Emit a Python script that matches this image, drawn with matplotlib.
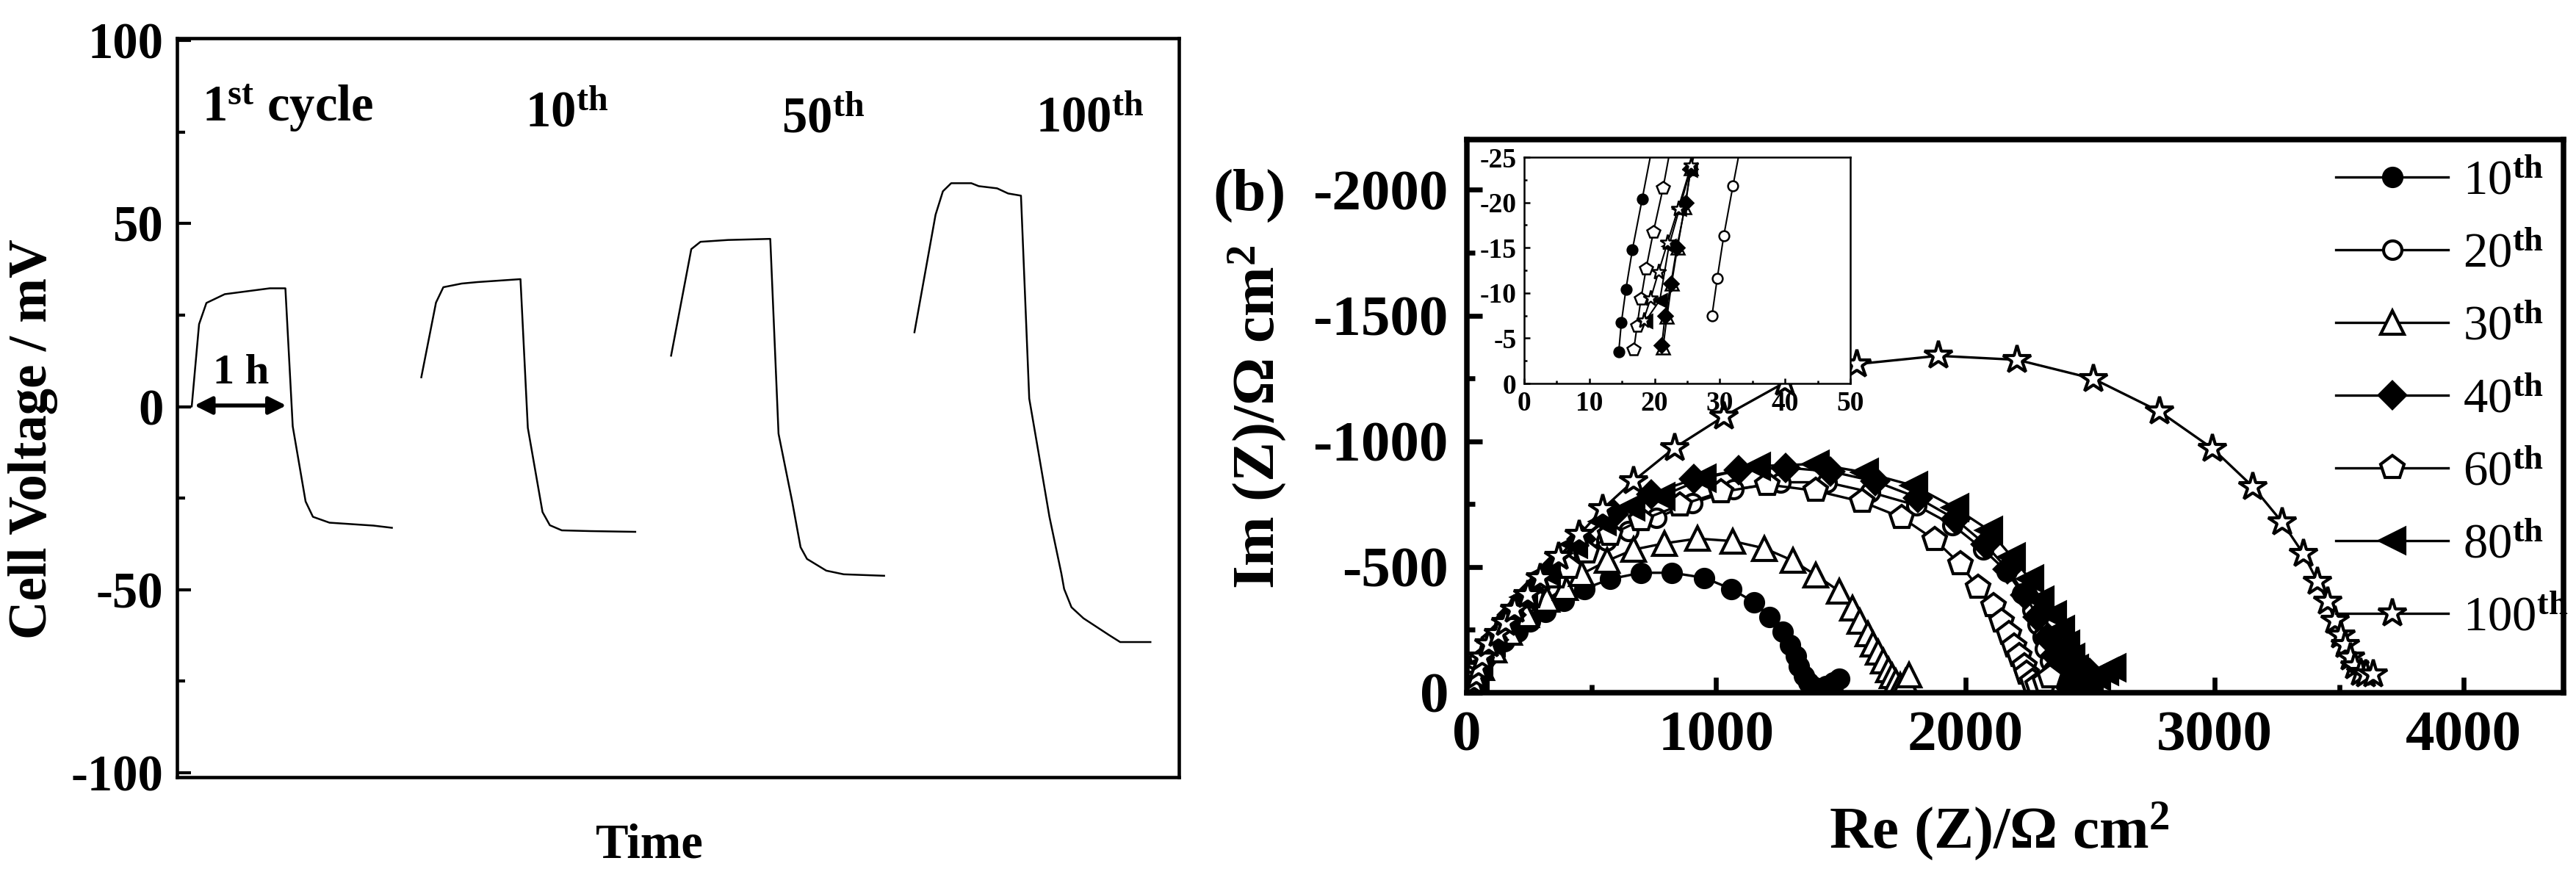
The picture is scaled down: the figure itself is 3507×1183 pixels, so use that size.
import matplotlib
matplotlib.use("Agg")
import matplotlib.pyplot as plt
from matplotlib.ticker import MultipleLocator

plt.rcParams.update({
    "font.family": ["Liberation Serif", "DejaVu Serif"],
    "font.weight": "bold",
    "mathtext.fontset": "custom",
    "mathtext.rm": "Liberation Serif",
    "mathtext.it": "Liberation Serif:italic",
    "mathtext.bf": "Liberation Serif:bold",
    "axes.unicode_minus": False,
})

# ---------------- data: (a) galvanostatic cycling ----------------
cycle_labels = [r"1$^{\mathbf{st}}$ cycle", r"10$^{\mathbf{th}}$", r"50$^{\mathbf{th}}$", r"100$^{\mathbf{th}}$"]

t_c1 = [0.03, 0.16, 0.24, 0.32, 0.52, 1.01, 1.18, 1.26, 1.40, 1.48, 1.66, 2.14, 2.34]
v_c1 = [0, 0, 22.5, 28.3, 30.7, 32.3, 32.3, -5.4, -25.9, -30.1, -31.7, -32.5, -33.1]

t_c10 = [2.66, 2.82, 2.90, 3.10, 3.27, 3.74, 3.82, 3.98, 4.06, 4.19, 4.50, 4.99]
v_c10 = [8.0, 28.4, 32.6, 33.6, 34.0, 34.8, -5.8, -28.8, -32.4, -33.8, -34.0, -34.2]

t_c50 = [5.38, 5.60, 5.70, 6.00, 6.46, 6.55, 6.70, 6.79, 6.86, 7.07, 7.26, 7.70]
v_c50 = [13.9, 43.0, 45.0, 45.5, 45.8, -7.4, -26.1, -38.4, -41.6, -44.8, -45.8, -46.2]

t_c100 = [8.03, 8.26, 8.34, 8.43, 8.65, 8.73, 8.93, 9.05, 9.19, 9.28, 9.38, 9.50,
          9.63, 9.66, 9.74, 9.87, 10.15, 10.27, 10.60]
v_c100 = [20.3, 52.4, 58.8, 61.0, 61.0, 60.2, 59.6, 58.2, 57.6, 2.2, -12.4, -30.1,
          -45.6, -49.8, -54.8, -57.8, -62.4, -64.3, -64.3]

# ---------------- data: (b) impedance spectra ----------------
series_labels = [r"10$^{\mathrm{th}}$", r"20$^{\mathrm{th}}$", r"30$^{\mathrm{th}}$", r"40$^{\mathrm{th}}$",
                 r"60$^{\mathrm{th}}$", r"80$^{\mathrm{th}}$", r"100$^{\mathrm{th}}$"]

re10 = [14.5, 14.9, 15.6, 16.6, 18.1, 26, 37, 68, 109, 151, 202, 254, 316, 389, 471, 575, 699, 823,
        953, 1060, 1153, 1215, 1267, 1298, 1319, 1333, 1354, 1370, 1390, 1410, 1440, 1470, 1494]
im10 = [-3.5, -6.7, -10.4, -14.8, -20.4, -50, -87, -126, -165, -204, -242, -282, -321, -365, -413, -452,
        -477, -477, -457, -413, -360, -301, -243, -189, -145, -106, -67, -40, -22, -18, -25, -40, -55]

re20 = [28.8, 29.6, 30.6, 32.0, 40, 60, 100, 150, 210, 280, 370, 470, 560, 647, 761, 905, 1071, 1257,
        1443, 1618, 1804, 1949, 2073, 2166, 2228, 2268, 2289, 2310, 2320, 2340, 2351, 2361, 2375, 2400, 2430]
im20 = [-7.5, -11.6, -16.3, -21.8, -52, -110, -190, -270, -350, -425, -500, -560, -605, -642, -696, -754,
        -808, -837, -837, -798, -745, -667, -569, -482, -394, -330, -272, -223, -175, -126, -87, -48, -30, -40, -55]

re30 = [21.3, 21.9, 22.6, 23.5, 24.6, 25.6, 35, 60, 110, 170, 240, 320, 395, 461, 564, 668, 792, 926,
        1066, 1195, 1308, 1401, 1494, 1546, 1577, 1608, 1629, 1650, 1671, 1691, 1705, 1722, 1740, 1760, 1775]
im30 = [-4.0, -7.4, -11.0, -15.0, -19.5, -23.8, -55, -100, -170, -240, -310, -370, -418, -472, -525, -569,
        -594, -613, -603, -574, -525, -467, -404, -335, -282, -233, -194, -160, -126, -92, -67, -43, -30, -45, -70]

re40 = [21.1, 21.6, 22.5, 23.4, 24.8, 25.5, 35, 60, 110, 180, 260, 350, 460, 590, 740, 910, 1090, 1280,
        1460, 1640, 1810, 1960, 2080, 2170, 2240, 2290, 2330, 2360, 2385, 2400, 2415, 2440, 2470, 2500]
im40 = [-4.2, -7.5, -11.0, -15.0, -20.0, -23.7, -60, -120, -210, -310, -400, -500, -610, -710, -790, -850,
        -885, -895, -880, -840, -775, -690, -590, -490, -390, -300, -220, -150, -95, -55, -30, -40, -60, -80]

re60 = [16.8, 17.3, 17.9, 18.7, 19.8, 21.3, 35, 60, 110, 170, 260, 358, 409, 481, 575, 699, 854, 1019,
        1205, 1401, 1587, 1746, 1877, 1980, 2052, 2114, 2145, 2175, 2196, 2216, 2237, 2247, 2268, 2290, 2318, 2340]
im60 = [-3.7, -6.3, -9.3, -12.7, -16.7, -21.6, -75, -125, -205, -285, -380, -460, -496, -559, -628, -686,
        -745, -798, -828, -803, -759, -696, -608, -511, -418, -345, -282, -233, -184, -145, -106, -77, -43, -30, -45, -60]

re80 = [18.6, 20.8, 22.2, 23.8, 25.5, 35, 50, 100, 160, 230, 320, 430, 544, 660, 781, 947, 1164, 1401,
        1598, 1794, 1959, 2094, 2187, 2259, 2301, 2351, 2383, 2404, 2425, 2440, 2455, 2470, 2500, 2530, 2560, 2590]
im80 = [-6.9, -9.2, -15.2, -19.3, -23.6, -60, -110, -200, -290, -380, -480, -590, -680, -740, -781, -852,
        -901, -910, -876, -823, -735, -647, -540, -452, -369, -310, -252, -194, -140, -95, -60, -35, -45, -65, -85, -100]

re100 = [18.3, 19.4, 20.6, 22.0, 23.6, 25.6, 30, 38, 48, 62, 89, 126, 157, 192, 244, 296, 368, 451, 544,
         668, 833, 1031, 1276, 1565, 1892, 2208, 2513, 2780, 2992, 3154, 3272, 3357, 3413, 3453, 3483,
         3507, 3526, 3544, 3563, 3586, 3608, 3638]
im100 = [-7.0, -9.4, -12.3, -15.6, -19.3, -24.1, -40, -65, -100, -140, -194, -233, -277, -330, -389, -457,
         -540, -628, -730, -842, -974, -1099, -1234, -1307, -1340, -1324, -1249, -1118, -971, -819, -677,
         -551, -442, -363, -285, -228, -190, -139, -105, -80, -73, -72]

# ---------------- figure ----------------
W, H, DPI = 3507, 1183, 300
fig = plt.figure(figsize=(W / DPI, H / DPI), dpi=DPI)


def fx(px):
    return px / W


def fy(py):
    return 1 - py / H


# ----- left panel -----
axL = fig.add_axes([fx(241), fy(1058), fx(1605) - fx(241), fy(52) - fy(1058)])
for t, v in [(t_c1, v_c1), (t_c10, v_c10), (t_c50, v_c50), (t_c100, v_c100)]:
    axL.plot(t, v, color="black", lw=0.6)
axL.set_xlim(0, 10.91)
axL.set_ylim(-101.2, 100.6)
axL.set_xticks([])
axL.yaxis.set_major_locator(MultipleLocator(50))
axL.yaxis.set_minor_locator(MultipleLocator(25))
axL.tick_params(axis="y", which="major", direction="in", length=4.6, width=1.0, labelsize=16.5, pad=4.5)
axL.tick_params(axis="y", which="minor", direction="in", length=2.7, width=1.0)
for s in axL.spines.values():
    s.set_linewidth(1.1)

label_pos = [(0.27, 77.9), (3.79, 76.5), (6.58, 74.9), (9.35, 75.1)]
for (x, y), lab in zip(label_pos, cycle_labels):
    axL.text(x, y, lab, fontsize=16.5, fontweight="bold", ha="left", va="baseline")

axL.annotate("", xy=(1.19, 0.3), xytext=(0.19, 0.3),
             arrowprops=dict(arrowstyle="<|-|>", color="black", lw=1.3, mutation_scale=12,
                             shrinkA=0, shrinkB=0))
axL.text(0.70, 6.4, "1 h", fontsize=14, fontweight="bold", ha="center", va="baseline")

fig.text(fx(45), fy(598), "Cell Voltage / mV", rotation=90, ha="center", va="center",
         fontsize=17.5, fontweight="bold")
fig.text(fx(884), fy(1168), "Time", ha="center", va="baseline", fontsize=16, fontweight="bold")

# ----- right panel -----
axR = fig.add_axes([fx(1997), fy(943), fx(3490) - fx(1997), fy(190) - fy(943)])
styles = [
    dict(marker="o", mfc="black", ms=6),
    dict(marker="o", mfc="white", ms=6),
    dict(marker="^", mfc="white", ms=7.5),
    dict(marker="D", mfc="black", ms=6),
    dict(marker="p", mfc="white", ms=8),
    dict(marker="<", mfc="black", ms=8),
    dict(marker="*", mfc="white", ms=9.5),
]
data = [(re10, im10), (re20, im20), (re30, im30), (re40, im40), (re60, im60), (re80, im80), (re100, im100)]

handles = []
for (x, y), st, lab in zip(data, styles, series_labels):
    ln, = axR.plot(x, y, color="black", lw=0.8, mec="black", mew=1.0, label=lab, **st)
    handles.append(ln)

axR.set_xlim(0, 4400)
axR.set_ylim(0, -2200)
axR.xaxis.set_major_locator(MultipleLocator(1000))
axR.xaxis.set_minor_locator(MultipleLocator(500))
axR.yaxis.set_major_locator(MultipleLocator(500))
axR.yaxis.set_minor_locator(MultipleLocator(250))
axR.tick_params(which="major", direction="in", length=5, width=1.6, labelsize=19, pad=6)
axR.tick_params(which="minor", direction="in", length=2.7, width=1.6)
for s in axR.spines.values():
    s.set_linewidth(1.8)

LEG_FS = 16
row_first, row_step = 241.0, 99.0


def make_legend(spacing, top_px):
    return axR.legend(handles, series_labels, loc="upper left", bbox_to_anchor=(fx(3180), fy(top_px)),
                      bbox_transform=fig.transFigure, frameon=False,
                      prop=dict(size=LEG_FS, weight="normal"),
                      handlelength=2.3, handletextpad=0.3, labelspacing=spacing,
                      borderpad=0, borderaxespad=0)


def row_centers(leg):
    fig.canvas.draw()
    out = []
    for ln in leg.get_lines():
        xy = ln.get_transform().transform(list(zip(ln.get_xdata(), ln.get_ydata())))
        out.append(H - xy[:, 1].mean())
    return out


spacing, top = 0.66, 200.0
leg = make_legend(spacing, top)
for _ in range(3):
    c = row_centers(leg)
    step = (c[-1] - c[0]) / (len(c) - 1)
    spacing += (row_step - step) / (LEG_FS * DPI / 72.0)
    top += row_first - c[0]
    leg.remove()
    leg = make_legend(spacing, top)

fig.text(fx(2722), fy(1155), r"Re (Z)/Ω cm$^{2}$", ha="center", va="baseline", fontsize=19.5, fontweight="bold")
fig.text(fx(1712), fy(568), r"Im (Z)/Ω cm$^{2}$", rotation=90, ha="center", va="center",
         fontsize=19.5, fontweight="bold")
fig.text(fx(1701), fy(266), "(b)", ha="center", va="center", fontsize=19.5, fontweight="bold")

# ----- inset -----
axI = fig.add_axes([fx(2075), fy(522), fx(2519) - fx(2075), fy(214) - fy(522)])
axI.set_facecolor("white")
for (x, y), st in zip(data, styles):
    sti = dict(st)
    sti["ms"] = st["ms"] * 0.55
    axI.plot(x, y, color="black", lw=0.5, mec="black", mew=0.6, **sti)
axI.set_xlim(0, 50)
axI.set_ylim(0, -25)
axI.xaxis.set_major_locator(MultipleLocator(10))
axI.xaxis.set_minor_locator(MultipleLocator(5))
axI.yaxis.set_major_locator(MultipleLocator(5))
axI.yaxis.set_minor_locator(MultipleLocator(2.5))
axI.tick_params(which="major", direction="in", length=1.8, width=0.6, labelsize=9, pad=2.5)
axI.tick_params(which="minor", direction="in", length=1.0, width=0.6)
for s in axI.spines.values():
    s.set_linewidth(0.6)

fig.savefig("out.png", dpi=DPI)
